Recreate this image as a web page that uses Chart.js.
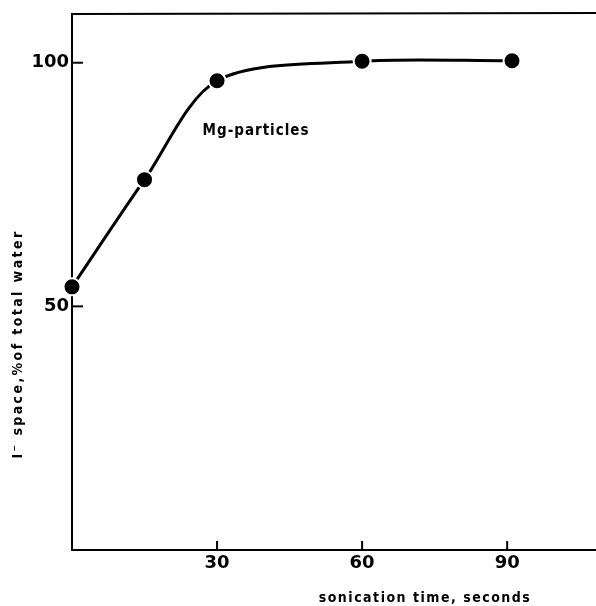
<!DOCTYPE html>
<html>
<head>
<meta charset="utf-8">
<script src="https://cdn.jsdelivr.net/npm/chart.js@4/dist/chart.umd.min.js"></script>
<style>
html,body{margin:0;padding:0;background:#fff;}
#c{display:block;}
</style>
</head>
<body>
<canvas id="c" width="596" height="606"></canvas>
<script>
// ---- data ----
const time = [0, 15, 30, 60, 91];            // sonication time, seconds
const iSpace = [54, 76, 96.3, 100.3, 100.4]; // I- space, % of total water
const xTickValues = [30, 60, 90];
const yTickValues = [50, 100];
const seriesLabel = 'Mg-particles';
const seriesLabelAt = [27, 86];
const xTitle = 'sonication time, seconds';
const yTitle = 'I\u207B space,%of total water';

const decor = {
  id: 'decor',
  afterDraw(chart) {
    const ctx = chart.ctx, ca = chart.chartArea;
    const xs = chart.scales.x, ys = chart.scales.y;
    ctx.save();
    ctx.strokeStyle = '#000';
    ctx.fillStyle = '#000';
    ctx.lineWidth = 2;
    // top frame line
    ctx.beginPath();
    ctx.moveTo(ca.left - 1, ca.top);
    ctx.lineTo(chart.width, ca.top - 1);
    ctx.stroke();
    // bottom axis runs on to the page edge
    ctx.beginPath();
    ctx.moveTo(ca.right - 1, ca.bottom);
    ctx.lineTo(chart.width, ca.bottom);
    ctx.stroke();
    // inward tick marks
    xTickValues.forEach(v => {
      const px = xs.getPixelForValue(v);
      ctx.beginPath(); ctx.moveTo(px, ca.bottom); ctx.lineTo(px, ca.bottom - 9); ctx.stroke();
    });
    yTickValues.forEach(v => {
      const py = ys.getPixelForValue(v);
      ctx.beginPath(); ctx.moveTo(ca.left, py); ctx.lineTo(ca.left + 11, py); ctx.stroke();
    });
    // series label
    ctx.font = 'bold 15px "DejaVu Sans Condensed", "DejaVu Sans"';
    ctx.letterSpacing = '1px';
    ctx.textAlign = 'left';
    ctx.textBaseline = 'middle';
    ctx.fillText(seriesLabel, xs.getPixelForValue(seriesLabelAt[0]), ys.getPixelForValue(seriesLabelAt[1]));
    // x title
    ctx.font = 'bold 14px "DejaVu Sans Condensed", "DejaVu Sans"';
    ctx.letterSpacing = '1.5px';
    ctx.textAlign = 'center';
    ctx.fillText(xTitle, 425, 598);
    // y title
    ctx.translate(18, 344);
    ctx.rotate(-Math.PI / 2);
    ctx.font = 'bold 14px "DejaVu Sans Condensed", "DejaVu Sans"';
    ctx.letterSpacing = '2.4px';
    ctx.fillText(yTitle, 0, 0);
    ctx.restore();
  }
};

new Chart(document.getElementById('c'), {
  type: 'line',
  data: {
    datasets: [{
      label: seriesLabel,
      data: time.map((t, i) => ({ x: t, y: iSpace[i] })),
      borderColor: '#000',
      borderWidth: 3,
      tension: 0.3,
      pointRadius: 8.5,
      pointBackgroundColor: '#000',
      pointBorderColor: '#fff',
      pointBorderWidth: 2,
      clip: false
    }]
  },
  options: {
    responsive: false,
    animation: false,
    layout: { padding: { top: 14, right: 0, left: 0, bottom: 0 } },
    plugins: { legend: { display: false }, tooltip: { enabled: false } },
    scales: {
      x: {
        type: 'linear', min: 0, max: 106.2,
        afterBuildTicks: s => { s.ticks = xTickValues.map(v => ({ value: v })); },
        afterFit: s => { s.height = 56; s.paddingRight = 0; s.paddingLeft = 0; },
        grid: { display: false, drawTicks: false, tickLength: 0 },
        border: { display: true, color: '#000', width: 2 },
        ticks: { color: '#000', font: { family: 'DejaVu Sans', size: 18, weight: 'bold' }, padding: 3, maxRotation: 0, autoSkip: false }
      },
      y: {
        type: 'linear', min: 0, max: 110,
        afterBuildTicks: s => { s.ticks = yTickValues.map(v => ({ value: v })); },
        afterFit: s => { s.width = 72; s.paddingTop = 0; s.paddingBottom = 0; },
        grid: { display: false, drawTicks: false, tickLength: 0 },
        border: { display: true, color: '#000', width: 2 },
        ticks: { color: '#000', font: { family: 'DejaVu Sans', size: 18, weight: 'bold' }, padding: 3, autoSkip: false }
      }
    }
  },
  plugins: [decor]
});
</script>
</body>
</html>
